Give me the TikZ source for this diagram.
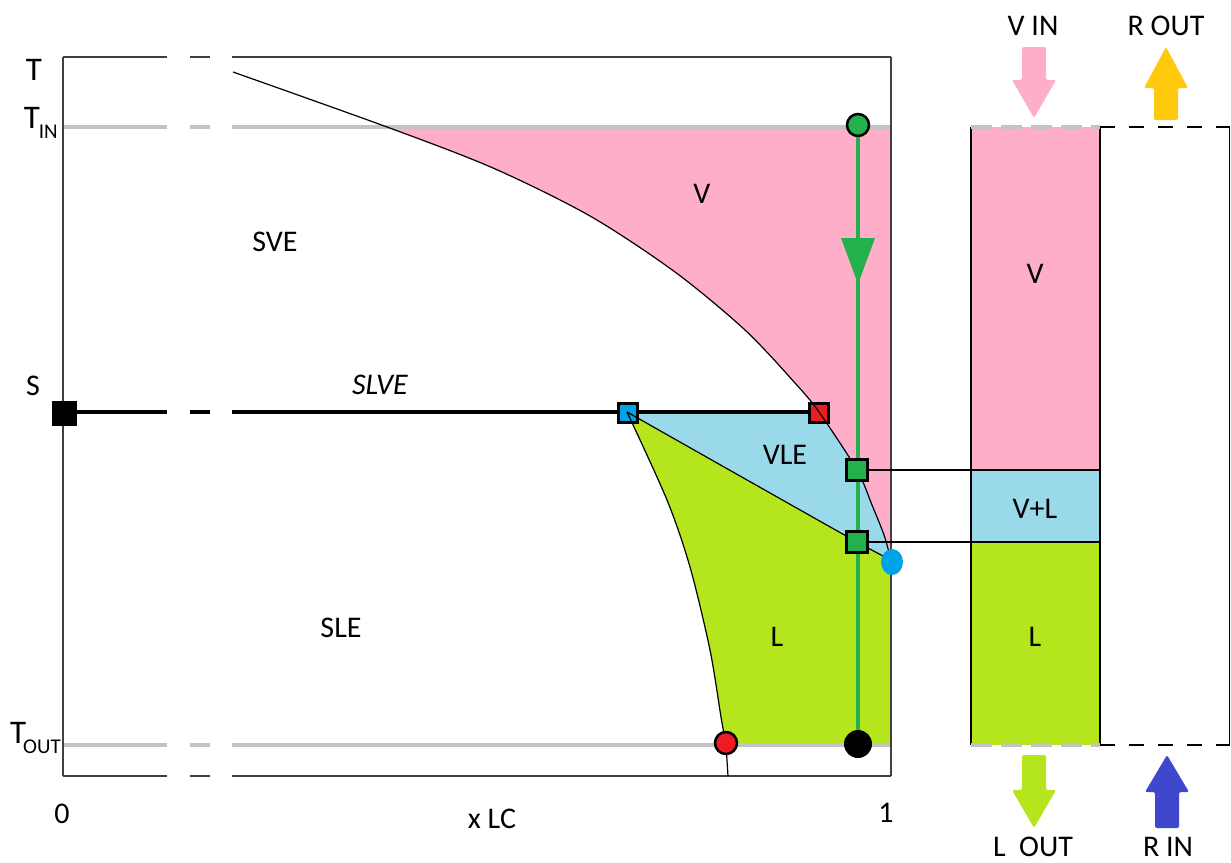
\documentclass[tikz,border=0pt]{standalone}
\usepackage{fontspec}
\setmainfont{Carlito}
\usetikzlibrary{shapes.geometric}
\definecolor{pinkV}{HTML}{FFAEC9}
\definecolor{blueVLE}{HTML}{99D9EA}
\definecolor{limeL}{HTML}{B5E61D}
\definecolor{pgreen}{HTML}{22B14C}
\definecolor{pred}{HTML}{ED1C24}
\definecolor{pblue}{HTML}{00A2E8}
\definecolor{pyellow}{HTML}{FFC90E}
\definecolor{pindigo}{HTML}{3F48CC}
\definecolor{pgray}{HTML}{C3C3C3}
\definecolor{axisgray}{HTML}{404040}
\newcommand\brokenline[3]{\draw[#1] (63,#2) -- (167,#2) (190,#2) -- (210,#2) (232,#2) -- (#3,#2);}
\begin{document}
\begin{tikzpicture}[x=1pt,y=-1pt,
  axisline/.style={draw=axisgray, line width=1.5pt},
  tline/.style={draw=pgray, line width=4pt},
  sline/.style={draw=black, line width=4pt},
  curveline/.style={draw=black, line width=1.2pt},
  thinline/.style={draw=black, line width=1.3pt},
  sqmark/.style={rectangle, draw=black, line width=3pt, inner sep=0pt, minimum size=19pt},
  gsqmark/.style={rectangle, draw=black, line width=3.5pt, inner sep=0pt, minimum size=21pt, fill=pgreen},
  dotmark/.style={circle, draw=black, line width=2.5pt, inner sep=0pt, minimum size=22pt},
  lab/.style={font=\fontsize{30}{32}\selectfont, inner sep=0pt, anchor=base},
  blockarrow/.style={rounded corners=2pt}]
\useasboundingbox (0,0) rectangle (1231,862);

% ---------- region fills ----------
\begin{scope}
  \clip plot[smooth] coordinates {(233,72) (387,127) (493,168) (590,216) (675,272) (745,330) (795,383) (819,412) (857,470) (872,505) (884,535) (891,560)} -- (891,57) -- (233,57) -- cycle;
  \fill[pinkV] (63,127) rectangle (891,560);
\end{scope}
\begin{scope}
  \clip plot[smooth] coordinates {(233,72) (387,127) (493,168) (590,216) (675,272) (745,330) (795,383) (819,412) (857,470) (872,505) (884,535) (891,560)} -- (891,776) -- (63,776) -- (63,57) -- (233,57) -- cycle;
  \fill[blueVLE] plot[smooth] coordinates {(627,412) (740,476) (857,542) (891,560)} -- (891,412) -- cycle;
\end{scope}
\fill[limeL] plot[smooth] coordinates {(627,412) (740,476) (857,542) (891,560)} -- (891,745) -- (726,745) -- plot[smooth] coordinates {(726,745) (721,717) (710,650) (690,567) (667,500) (627,412)} -- cycle;

% right column
\fill[pinkV] (971,127) rectangle (1100,470);
\fill[blueVLE] (971,470) rectangle (1100,542);
\fill[limeL] (971,542) rectangle (1100,745);

% ---------- axes and level lines ----------
\brokenline{tline}{127}{891}
\brokenline{tline}{745}{891}
\brokenline{axisline}{57}{891}
\brokenline{axisline}{776}{891}
\draw[axisline] (63,57) -- (63,776);
\draw[axisline] (891,57) -- (891,776);
\brokenline{sline}{412}{819}

% column borders
\draw[thinline] (971,127) -- (971,745);
\draw[thinline] (1100,127) -- (1100,745);
\draw[thinline] (1229.5,127) -- (1229.5,745);
\draw[draw=pgray, line width=4pt, dash pattern=on 21pt off 9pt] (971,127) -- (1100,127);
\draw[draw=pgray, line width=4pt, dash pattern=on 21pt off 9pt] (971,745) -- (1100,745);
\draw[thinline, dash pattern=on 15pt off 14pt] (1100,127) -- (1230,127);
\draw[thinline, dash pattern=on 15pt off 14pt] (1100,745) -- (1230,745);

% ---------- markers on the SLVE line ----------
\node[rectangle, fill=black, inner sep=0pt, minimum size=25pt] (ssq) at (64,413) {};
\node[sqmark, fill=pblue] (bsq) at (628,413) {};
\node[sqmark, fill=pred] (rsq) at (819,413) {};

% ---------- curves ----------
\draw[curveline] plot[smooth] coordinates {(233,72) (387,127) (493,168) (590,216) (675,272) (745,330) (795,383) (819,412) (857,470) (872,505) (884,535) (891,560)};
\draw[curveline] plot[smooth] coordinates {(627,412) (740,476) (857,542) (891,560)};
\draw[curveline] plot[smooth] coordinates {(726,745) (721,717) (710,650) (690,567) (667,500) (627,412)};
\draw[curveline] (726,745) -- (728,776);

% ---------- process line ----------
\node[dotmark, fill=pgreen] (gin) at (858,125) {};
\node[circle, fill=black, inner sep=0pt, minimum size=28pt] (gout) at (858,744) {};
\node[dotmark, fill=pred] (rdot) at (726,743) {};
\draw[draw=pgreen, line width=4pt] (gin) -- (gout);
\fill[pgreen] (841,238) -- (875,238) -- (858,284) -- cycle;

\coordinate (c1) at (1100,470);
\coordinate (c2) at (1100,542);
\node[gsqmark] (gsq1) at (857,470) {};
\node[gsqmark] (gsq2) at (857,542) {};
\draw[thinline] (gsq1.east) -- (c1);
\draw[thinline] (gsq2.east) -- (c2);
\node[ellipse, fill=pblue, inner sep=0pt, minimum width=22pt, minimum height=26pt] (bdot) at (892,562) {};

% ---------- block arrows ----------
\fill[pinkV, blockarrow] (1022,47) -- (1046,47) -- (1046,80) -- (1056,80) -- (1034,118) -- (1012,80) -- (1022,80) -- cycle;
\fill[pyellow, blockarrow] (1154,120) -- (1178,120) -- (1178,88) -- (1188,88) -- (1166,47) -- (1144,88) -- (1154,88) -- cycle;
\fill[limeL, blockarrow] (1022,755) -- (1046,755) -- (1046,790) -- (1056,790) -- (1034,828) -- (1012,790) -- (1022,790) -- cycle;
\fill[pindigo, blockarrow] (1155,828) -- (1179,828) -- (1179,792) -- (1189,792) -- (1167,755) -- (1145,792) -- (1155,792) -- cycle;

% ---------- labels ----------
\node[lab] (lT) at (34,80) {\fontsize{33}{33}\selectfont T};
\node[lab, anchor=base east] (lTin) at (58,128) {\fontsize{33}{33}\selectfont T\kern-1pt\raisebox{-10pt}{\fontsize{21}{21}\selectfont IN}};
\node[lab, anchor=base east] (lTout) at (61,743) {\fontsize{33}{33}\selectfont T\kern-3pt\raisebox{-10pt}{\fontsize{21}{21}\selectfont OUT}};
\node[lab] (lS) at (33,395) {S};
\node[lab] (l0) at (62,823) {0};
\node[lab] (l1) at (886,822) {1};
\node[lab] (lx) at (492,828) {x LC};
\node[lab] (lSVE) at (275,251) {SVE};
\node[lab] (lSLVE) at (380,394) {\itshape SLVE};
\node[lab] (lV) at (702,203) {V};
\node[lab] (lVLE) at (785,464) {VLE};
\node[lab] (lSLE) at (341,637) {SLE};
\node[lab] (lL) at (777,646) {L};
\node[lab] (cV) at (1035,283) {V};
\node[lab] (cVL) at (1035,518) {V+L};
\node[lab] (cL) at (1035,646) {L};
\node[lab] (lVin) at (1033,35) {V IN};
\node[lab] (lRout) at (1166,35) {R OUT};
\node[lab] (lLout) at (1033,856) {L\ \ OUT};
\node[lab] (lRin) at (1168,856) {R IN};
\end{tikzpicture}
\end{document}
